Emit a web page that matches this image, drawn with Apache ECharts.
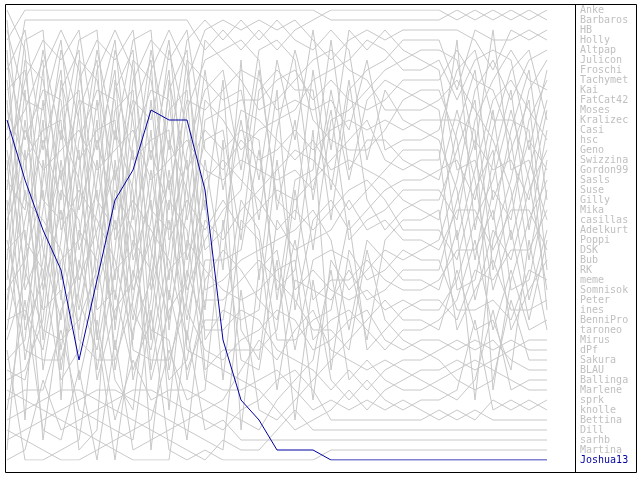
<!DOCTYPE html>
<html><head><meta charset="utf-8">
<script src="https://cdn.jsdelivr.net/npm/echarts@6/dist/echarts.min.js"></script>
<style>html,body{margin:0;padding:0;background:#fff}#c{width:640px;height:480px}</style>
</head><body><div id="c"></div>
<script>
// players, listed in final standing order
const names = ['Anke','Barbaros','HB','Holly','Altpap','Julicon','Froschi','Tachymet','Kai','FatCat42',
  'Moses','Kralizec','Casi','hsc','Geno','Swizzina','Gordon99','Sasls','Suse','Gilly',
  'Mika','casillas','Adelkurt','Poppi','DSK','Bub','RK','meme','Somnisok','Peter',
  'ines','BenniPro','taroneo','Mirus','dPf','Sakura','BLAU','Ballinga','Marlene','sprk',
  'knolle','Bettina','Dill','sarhb','Martina','Joshua13'];
const highlight = 'Joshua13';
const roundLabels = ['1','2','3','4','5','6','7','8','9','10','11','12','13','14','15','16','17','18','19','20','21','22','23','24','25','26','27','28','29','30','31'];

// standings per round: player index at rank 1, 2, ... 46
const r00 = [7,26,30,1,33,27,17,40,21,16, 13,45,0,11,20,15,2,6,9,4, 8,18,19,5,31,36,10,25,28,35, 22,34,3,29,38,24,12,23,43,44, 37,42,39,32,14,41];
const r01 = [1,0,17,9,7,19,21,2,36,30, 11,25,8,27,22,13,18,45,35,26, 6,3,31,40,14,28,20,29,33,37, 34,5,16,24,10,15,23,12,44,43, 42,4,32,39,41,38];
const r02 = [1,0,9,2,18,11,6,19,27,14, 30,29,13,3,17,4,8,24,28,21, 5,26,45,33,25,15,40,16,7,12, 35,23,20,36,34,10,22,41,44,42, 43,32,37,31,39,38];
const r03 = [1,0,6,30,24,2,17,12,5,27, 15,13,16,18,8,23,33,19,36,3, 7,21,9,34,26,22,45,14,35,4, 31,25,44,20,28,10,29,40,42,11, 32,43,41,37,38,39];
const r04 = [1,0,2,18,5,3,6,34,15,19, 14,24,8,4,21,12,11,16,9,25, 30,36,28,22,27,29,31,23,10,17, 7,20,26,13,40,45,37,33,42,32, 44,41,43,38,35,39];
const r05 = [1,0,18,34,11,14,25,3,4,22, 19,31,12,30,2,10,8,26,27,6, 7,9,23,24,40,28,20,45,5,33, 16,38,29,15,17,13,21,36,32,42, 41,44,35,43,39,37];
const r06 = [1,0,25,19,26,34,2,33,7,4, 40,12,20,11,8,35,23,3,15,45, 30,5,6,18,17,9,21,22,16,10, 36,24,14,37,27,13,31,28,32,41, 42,38,44,39,43,29];
const r07 = [1,0,34,11,7,30,25,17,40,3, 22,26,8,10,6,33,45,14,20,18, 24,19,15,27,21,4,31,36,35,13, 2,5,29,9,12,38,16,23,41,32, 28,42,39,44,37,43];
const r08 = [1,0,11,17,14,22,24,30,10,21, 45,3,36,33,19,34,13,8,9,4, 25,5,18,35,26,28,27,29,7,23, 44,16,31,40,2,12,6,15,41,38, 32,39,42,37,20,43];
const r09 = [1,0,24,3,9,17,34,23,5,10, 28,45,33,29,14,8,16,35,30,40, 19,7,25,11,2,18,6,21,20,13, 15,26,22,31,39,12,36,27,38,41, 4,32,37,42,44,43];
const r10 = [1,0,17,14,5,19,24,2,28,30, 21,45,9,8,13,25,23,22,29,11, 26,3,40,4,6,10,36,15,16,12, 34,7,43,18,33,27,20,35,38,39, 41,37,32,31,42,44];
const r11 = [1,14,2,22,0,21,26,19,13,6, 30,15,23,3,17,12,8,18,45,10, 24,7,11,16,9,27,4,31,5,35, 29,20,36,28,34,33,25,40,39,38, 37,41,43,32,44,42];
const r12 = [1,2,0,14,21,22,13,24,30,19, 15,6,3,29,23,18,17,8,26,11, 16,39,9,7,31,27,12,5,4,35, 28,20,36,45,25,34,33,10,40,37, 38,43,41,42,32,44];
const r13 = [1,14,2,21,0,12,30,22,19,15, 26,9,23,17,6,8,13,18,16,20, 7,10,11,3,27,5,31,35,32,4, 36,28,24,34,25,39,37,33,40,45, 41,38,29,43,42,44];
const r14 = [1,2,0,14,13,21,16,30,3,15, 22,26,6,23,27,17,8,19,7,18, 11,9,20,10,5,35,29,12,4,31, 28,36,34,37,25,24,39,40,33,41, 32,45,38,43,42,44];
const r15 = [1,14,2,13,0,19,3,15,9,22, 30,6,12,26,17,28,7,8,11,16, 21,24,18,5,29,39,4,35,27,23, 34,31,25,20,36,37,40,41,10,38, 33,32,42,43,45,44];
const r16 = [1,2,0,14,12,13,15,22,3,30, 6,21,17,19,7,26,8,23,25,11, 18,16,5,31,24,4,27,10,28,35, 9,34,37,20,29,36,41,38,40,32, 42,39,33,43,45,44];
const r17 = [1,0,19,2,14,22,16,6,3,15, 30,12,27,26,17,7,23,11,8,13, 5,9,18,24,21,29,28,39,10,25, 37,20,35,31,34,38,36,32,41,4, 40,33,42,43,45,44];
const r18 = [0,1,14,23,22,2,6,15,13,30, 8,21,17,12,19,11,26,7,16,9, 18,3,24,5,29,4,38,25,28,10, 20,31,35,34,37,32,27,39,36,40, 33,41,42,43,44,45];
const r19 = [0,1,19,2,14,6,22,16,3,15, 21,17,30,11,12,26,23,13,18,24, 7,20,9,8,27,29,10,25,4,28, 31,34,5,32,35,37,36,38,33,39, 40,41,42,43,44,45];
const r20 = [0,1,2,6,19,30,3,22,21,13, 15,11,17,23,12,14,26,18,7,16, 9,8,24,5,35,25,4,27,28,10, 34,32,31,29,20,38,37,39,36,40, 33,41,42,43,44,45];
const r21 = [0,1,19,2,6,3,21,13,14,15, 22,17,12,23,30,11,7,26,9,18, 8,24,16,29,4,5,27,25,10,32, 28,35,20,34,31,37,36,38,33,39, 40,41,42,43,44,45];
const r22 = [0,1,2,3,19,21,6,15,13,12, 22,14,17,30,7,23,11,9,8,26, 16,29,18,24,27,4,10,5,25,28, 20,32,31,35,34,36,37,33,38,40, 39,41,42,43,44,45];
const r23 = [0,1,2,3,21,19,6,15,12,13, 22,17,14,30,7,11,23,9,8,16, 26,29,18,24,4,27,10,5,25,20, 28,32,31,34,35,36,33,37,38,39, 40,41,42,43,44,45];
const r24 = [0,1,2,3,21,6,19,15,12,22, 13,17,30,14,7,11,9,23,8,16, 29,26,18,4,24,27,10,25,5,20, 28,31,32,34,36,35,33,38,37,39, 41,40,42,43,44,45];
const r25 = [1,0,2,11,15,21,30,22,3,6, 23,17,26,12,16,9,19,4,14,10, 24,8,5,13,25,18,32,28,7,31, 27,20,29,36,34,33,38,35,39,37, 40,41,42,43,44,45];
const r26 = [0,1,3,2,30,6,26,15,4,16, 22,8,17,10,21,19,13,23,18,9, 24,28,11,31,25,12,20,7,29,14, 27,39,32,34,36,38,33,37,35,5, 41,40,42,43,44,45];
const r27 = [1,0,21,3,6,4,2,8,15,13, 9,30,11,22,18,12,10,28,7,26, 25,19,14,5,24,29,16,20,23,27, 37,32,31,36,34,33,38,35,17,40, 39,41,42,43,44,45];
const r28 = [0,1,2,3,8,6,11,13,12,4, 28,30,19,15,26,10,21,5,22,16, 24,7,23,9,20,14,31,17,18,35, 29,27,25,34,33,36,32,38,37,39, 40,41,42,43,44,45];
const r29 = [1,0,3,2,11,4,19,8,5,26, 13,7,30,16,6,21,9,28,14,10, 24,17,12,32,20,15,27,18,25,22, 29,23,31,33,34,35,36,37,38,40, 39,41,42,43,44,45];
const r30 = [0,1,2,3,4,5,6,7,8,9, 10,11,12,13,14,15,16,17,18,19, 20,21,22,23,24,25,26,27,28,29, 30,31,32,33,34,35,36,37,38,39, 40,41,42,43,44,45];

const rounds = [r00,r01,r02,r03,r04,r05,r06,r07,r08,r09,r10,r11,r12,r13,r14,r15,r16,r17,r18,r19,r20,r21,r22,r23,r24,r25,r26,r27,r28,r29,r30];

const GRAY = '#c8c8c8', BLUE = '#0000a0', TEXTGRAY = '#c0c0c0';
const FONT = '10px "DejaVu Sans Mono", "Liberation Mono", monospace';

const ranks = names.map(() => []);
rounds.forEach((ord, ri) => ord.forEach((p, k) => { ranks[p][ri] = k + 1; }));

const series = names.map((n, p) => ({
  type: 'line', name: n, data: ranks[p], symbol: 'none', silent: true,
  lineStyle: { width: 1, color: n === highlight ? BLUE : GRAY },
  z: n === highlight ? 10 : 2
}));

const chart = echarts.init(document.getElementById('c'), null, { renderer: 'canvas' });
chart.setOption({
  animation: false,
  backgroundColor: '#fff',
  grid: { left: 7, right: 93, top: 10, bottom: 20 },
  xAxis: { type: 'category', data: roundLabels, boundaryGap: false, show: false },
  yAxis: { type: 'value', inverse: true, min: 1, max: names.length, show: false },
  series
});

const labels = names.map((n, i) => {
  const y = chart.convertToPixel({ yAxisIndex: 0 }, i + 1);
  return { type: 'text', silent: true, z: 20,
    style: { text: n, x: 580, y: y, font: FONT, fill: n === highlight ? BLUE : TEXTGRAY, verticalAlign: 'middle', align: 'left' } };
});
chart.setOption({
  graphic: [
    { type: 'rect', silent: true, z: 30, shape: { x: 5.5, y: 4.5, width: 631, height: 468 }, style: { fill: 'none', stroke: '#000', lineWidth: 1 } },
    { type: 'line', silent: true, z: 30, shape: { x1: 575.5, y1: 4.5, x2: 575.5, y2: 472.5 }, style: { stroke: '#000', lineWidth: 1 } },
    ...labels
  ]
});
</script>
</body></html>
